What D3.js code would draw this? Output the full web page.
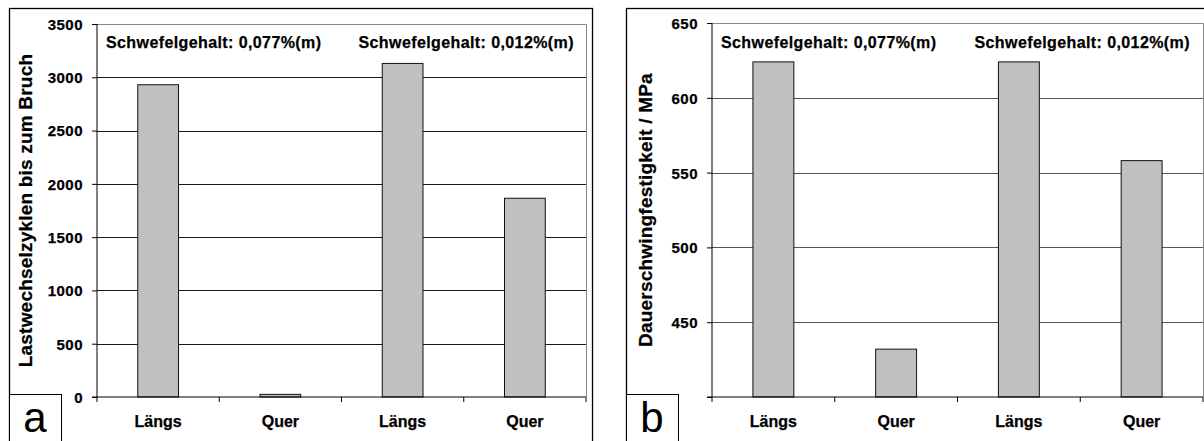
<!DOCTYPE html>
<html lang="de">
	<head>
		<meta charset="utf-8">
		<title>Schwefelgehalt: Lastwechsel und Dauerschwingfestigkeit</title>
		<script src="https://d3js.org/d3.v7.min.js"></script>
		<style type="text/css">
			body { margin: 0; background: #fff; }
			text { font-family: "Liberation Sans", Arial, sans-serif; font-weight: bold; fill: #000; stroke: #000; stroke-width: 0.25px; }
			text.letter { font-weight: normal; stroke: none; }
		</style>
	</head>
	<body>
		<script type="text/javascript">

			// values
			var categories = ["Längs", "Quer", "Längs", "Quer"];
			var cyclesValues = [2930, 25, 3130, 1865];
			var strengthValues = [624, 432, 624, 558];
			var cyclesTicks = [0, 500, 1000, 1500, 2000, 2500, 3000, 3500];
			var strengthTicks = [400, 450, 500, 550, 600, 650];
			var annotations = ["Schwefelgehalt: 0,077%(m)", "Schwefelgehalt: 0,012%(m)"];

			var svg = d3.select("body")
				.append("svg")
				.attr("width", 1204)
				.attr("height", 441);

			function drawPanel(p) {
				var g = svg.append("g");

				// outer frame
				g.append("rect")
					.attr("x", p.frame[0] + 0.5)
					.attr("y", p.frame[1] + 0.5)
					.attr("width", p.frame[2] - p.frame[0])
					.attr("height", 460)
					.attr("fill", "none")
					.attr("stroke", "#000")
					.attr("stroke-width", 1.3);

				var x = d3.scaleBand()
					.domain(d3.range(categories.length))
					.range([p.left, p.right]);

				var y = d3.scaleLinear()
					.domain(p.domain)
					.range([p.bottom, p.top]);

				// plot area border (grey)
				g.append("path")
					.attr("d", "M" + p.left + "," + (y(p.domain[1]) + 0.5) + "H" + (p.right + 0.5) + "V" + p.bottom)
					.attr("fill", "none")
					.attr("stroke", "#8a8a8a");

				// grid
				g.append("g")
					.selectAll("line")
					.data(p.ticks.filter(function(t){ return t > p.domain[0] && t < p.domain[1]; }))
					.enter()
					.append("line")
					.attr("x1", p.left)
					.attr("x2", p.right)
					.attr("y1", function(d){ return Math.round(y(d)) + 0.5; })
					.attr("y2", function(d){ return Math.round(y(d)) + 0.5; })
					.attr("stroke", p.grid);

				// bars
				g.append("g")
					.selectAll("rect")
					.data(p.values)
					.enter()
					.append("rect")
					.attr("x", function(d, i){ return x(i) + x.bandwidth() / 3; })
					.attr("width", x.bandwidth() / 3)
					.attr("y", function(d){ return y(d); })
					.attr("height", function(d){ return y(p.domain[0]) - y(d); })
					.attr("fill", "#c0c0c0")
					.attr("stroke", "#111")
					.attr("stroke-width", 1);

				// y axis
				var ya = g.append("g")
					.attr("transform", "translate(" + p.left + ",0)")
					.call(d3.axisLeft(y)
						.tickValues(p.ticks)
						.tickSize(5)
						.tickPadding(9)
						.tickFormat(function(d){ return d === p.hidden ? "" : d; }));
				ya.select(".domain").attr("stroke", "#000").attr("d", "M0," + p.top + "V" + p.bottom);
				ya.selectAll(".tick line").attr("stroke", "#000");
				ya.selectAll("text")
					.style("font-size", "15px")
					.attr("letter-spacing", "0.5px")
					.attr("dy", "0.36em")
					.attr("fill", "#000");

				// x axis
				var xa = g.append("g")
					.attr("transform", "translate(0," + p.bottom + ")");
				xa.append("line")
					.attr("x1", p.left - 5)
					.attr("x2", p.right)
					.attr("stroke", "#000");
				xa.selectAll("line.tk")
					.data(d3.range(categories.length + 1))
					.enter()
					.append("line")
					.attr("class", "tk")
					.attr("x1", function(d){ return p.left + d * x.step(); })
					.attr("x2", function(d){ return p.left + d * x.step(); })
					.attr("y1", 0)
					.attr("y2", 5)
					.attr("stroke", "#000");
				xa.selectAll("text")
					.data(categories)
					.enter()
					.append("text")
					.attr("x", function(d, i){ return x(i) + x.bandwidth() / 2; })
					.attr("y", 30)
					.style("text-anchor", "middle")
					.style("font-size", "16px")
					.text(function(d){ return d; });

				// sulphur content notes
				g.append("text")
					.attr("x", x(0) + 9)
					.attr("y", 48)
					.style("font-size", "16px")
					.attr("letter-spacing", "0.4px")
					.text(annotations[0]);
				g.append("text")
					.attr("x", x(2) + 17)
					.attr("y", 48)
					.style("font-size", "16px")
					.attr("letter-spacing", "0.4px")
					.text(annotations[1]);

				// y axis title
				g.append("text")
					.attr("transform", "translate(" + p.titleX + "," + ((p.top + p.bottom) / 2) + ") rotate(-90)")
					.attr("dy", "0.35em")
					.style("text-anchor", "middle")
					.style("font-size", "19px")
					.attr("letter-spacing", "0.2px")
					.text(p.title);

				// panel letter box
				g.append("rect")
					.attr("x", p.frame[0] + 0.5)
					.attr("y", 394.5)
					.attr("width", 52)
					.attr("height", 60)
					.attr("fill", "#fff")
					.attr("stroke", "#000");
				g.append("text")
					.attr("class", "letter")
					.attr("x", p.frame[0] + 26)
					.attr("y", 432)
					.style("text-anchor", "middle")
					.style("font-size", "42px")
					.text(p.letter);
			}

			drawPanel({
				frame: [9, 8, 592],
				left: 97, right: 586, top: 24, bottom: 397,
				domain: [0, 3500], ticks: cyclesTicks, hidden: null,
				values: cyclesValues, grid: "#1a1a1a",
				title: "Lastwechselzyklen bis zum Bruch", titleX: 25, letter: "a"
			});

			drawPanel({
				frame: [626, 8, 1260],
				left: 712, right: 1203, top: 23, bottom: 397,
				domain: [400, 650], ticks: strengthTicks, hidden: 400,
				values: strengthValues, grid: "#555",
				title: "Dauerschwingfestigkeit / MPa", titleX: 645, letter: "b"
			});

		</script>
	</body>
</html>
